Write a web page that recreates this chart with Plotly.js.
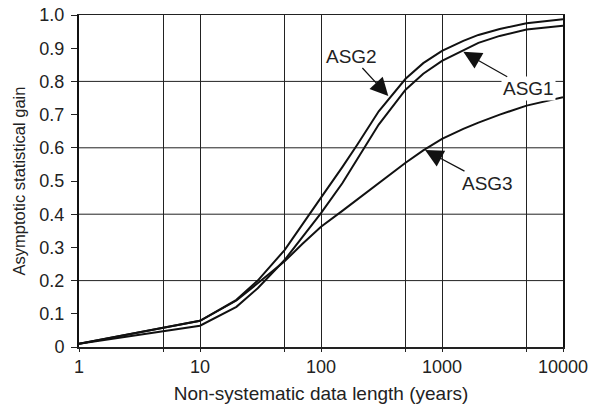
<!DOCTYPE html>
<html>
<head>
<meta charset="utf-8">
<script src="https://cdn.plot.ly/plotly-3.0.1.min.js"></script>
<style>html,body{margin:0;padding:0;background:#fff;}#chart{width:592px;height:406px;}</style>
</head>
<body>
<div id="chart"></div>
<script>
// Data
const lengthYears = [1, 10, 20, 30, 50, 70, 100, 150, 200, 300, 500, 700, 1000, 1500, 2000, 3000, 5000, 10000];
const asg1 = [0.010, 0.064, 0.121, 0.177, 0.262, 0.332, 0.403, 0.493, 0.565, 0.670, 0.775, 0.823, 0.862, 0.895, 0.916, 0.937, 0.956, 0.968];
const asg2 = [0.010, 0.079, 0.142, 0.200, 0.292, 0.367, 0.450, 0.542, 0.610, 0.710, 0.808, 0.855, 0.892, 0.922, 0.940, 0.958, 0.975, 0.987];
const asg3 = [0.010, 0.079, 0.140, 0.192, 0.258, 0.310, 0.362, 0.410, 0.445, 0.495, 0.555, 0.592, 0.627, 0.657, 0.676, 0.700, 0.727, 0.752];
const seriesNames = ['ASG1', 'ASG2', 'ASG3'];
const xTickVals = [1, 10, 100, 1000, 10000];
const xTickText = ['1', '10', '100', '1000', '10000'];
const xMinorVals = [5, 50, 500, 5000];
const yTickVals = [0, 0.1, 0.2, 0.3, 0.4, 0.5, 0.6, 0.7, 0.8, 0.9, 1.0];
const yTickText = ['0', '0.1', '0.2', '0.3', '0.4', '0.5', '0.6', '0.7', '0.8', '0.9', '1.0'];
const yGridVals = [0.2, 0.4, 0.6, 0.8];

const font = 'Liberation Sans, Arial, sans-serif';
const lineStyle = {color: '#111', width: 2};
const traces = [asg1, asg2, asg3].map((ys, i) => ({
  x: lengthYears, y: ys, name: seriesNames[i], type: 'scatter', mode: 'lines',
  line: lineStyle, hoverinfo: 'skip'
}));

function label(name, xv, yv, ax, ay) {
  return {x: Math.log10(xv), y: yv, xref: 'x', yref: 'y', text: name, ax: ax, ay: ay,
    showarrow: true, arrowhead: 2, arrowsize: 3, arrowwidth: 1.2, arrowcolor: '#111',
    bgcolor: '#fff', borderpad: 1, font: {size: 19, family: font, color: '#222'}};
}

const layout = {
  width: 592, height: 406,
  margin: {l: 79, r: 29, t: 15, b: 59},
  paper_bgcolor: '#fff', plot_bgcolor: '#fff',
  showlegend: false,
  font: {family: font, size: 18, color: '#222'},
  xaxis: {
    type: 'log', range: [0, 4],
    tickmode: 'array', tickvals: xTickVals, ticktext: xTickText,
    ticks: 'outside', ticklen: 3, tickcolor: '#222',
    tickfont: {size: 18, family: font, color: '#222'},
    minor: {tickmode: 'array', tickvals: xMinorVals, ticks: 'outside', ticklen: 3, tickcolor: '#222', showgrid: true, gridcolor: '#222', gridwidth: 1},
    showgrid: true, gridcolor: '#222', gridwidth: 1,
    showline: true, linecolor: '#222', linewidth: 1.5, mirror: true,
    zeroline: false,
    title: {text: 'Non-systematic data length (years)', font: {size: 19, family: font, color: '#222'}, standoff: 10}
  },
  yaxis: {
    range: [0, 1],
    tickmode: 'array', tickvals: yTickVals, ticktext: yTickText,
    ticks: 'outside', ticklen: 6, tickcolor: '#222', ticklabelstandoff: 3,
    tickfont: {size: 18, family: font, color: '#222'},
    showgrid: false,
    showline: true, linecolor: '#111', linewidth: 2, mirror: true,
    zeroline: false,
    title: {text: 'Asymptotic statistical gain', font: {size: 16.5, family: font, color: '#222'}, standoff: 10}
  },
  shapes: yGridVals.map(v => ({
    type: 'line', xref: 'paper', x0: 0, x1: 1, yref: 'y', y0: v, y1: v,
    line: {color: '#222', width: 1}, layer: 'below'
  })),
  annotations: [
    label('ASG1', 1500, 0.889, 65, 37),
    label('ASG2', 360, 0.756, -37, -40),
    label('ASG3', 724, 0.593, 62, 33)
  ]
};

Plotly.newPlot('chart', traces, layout, {displayModeBar: false, staticPlot: true});
</script>
</body>
</html>
